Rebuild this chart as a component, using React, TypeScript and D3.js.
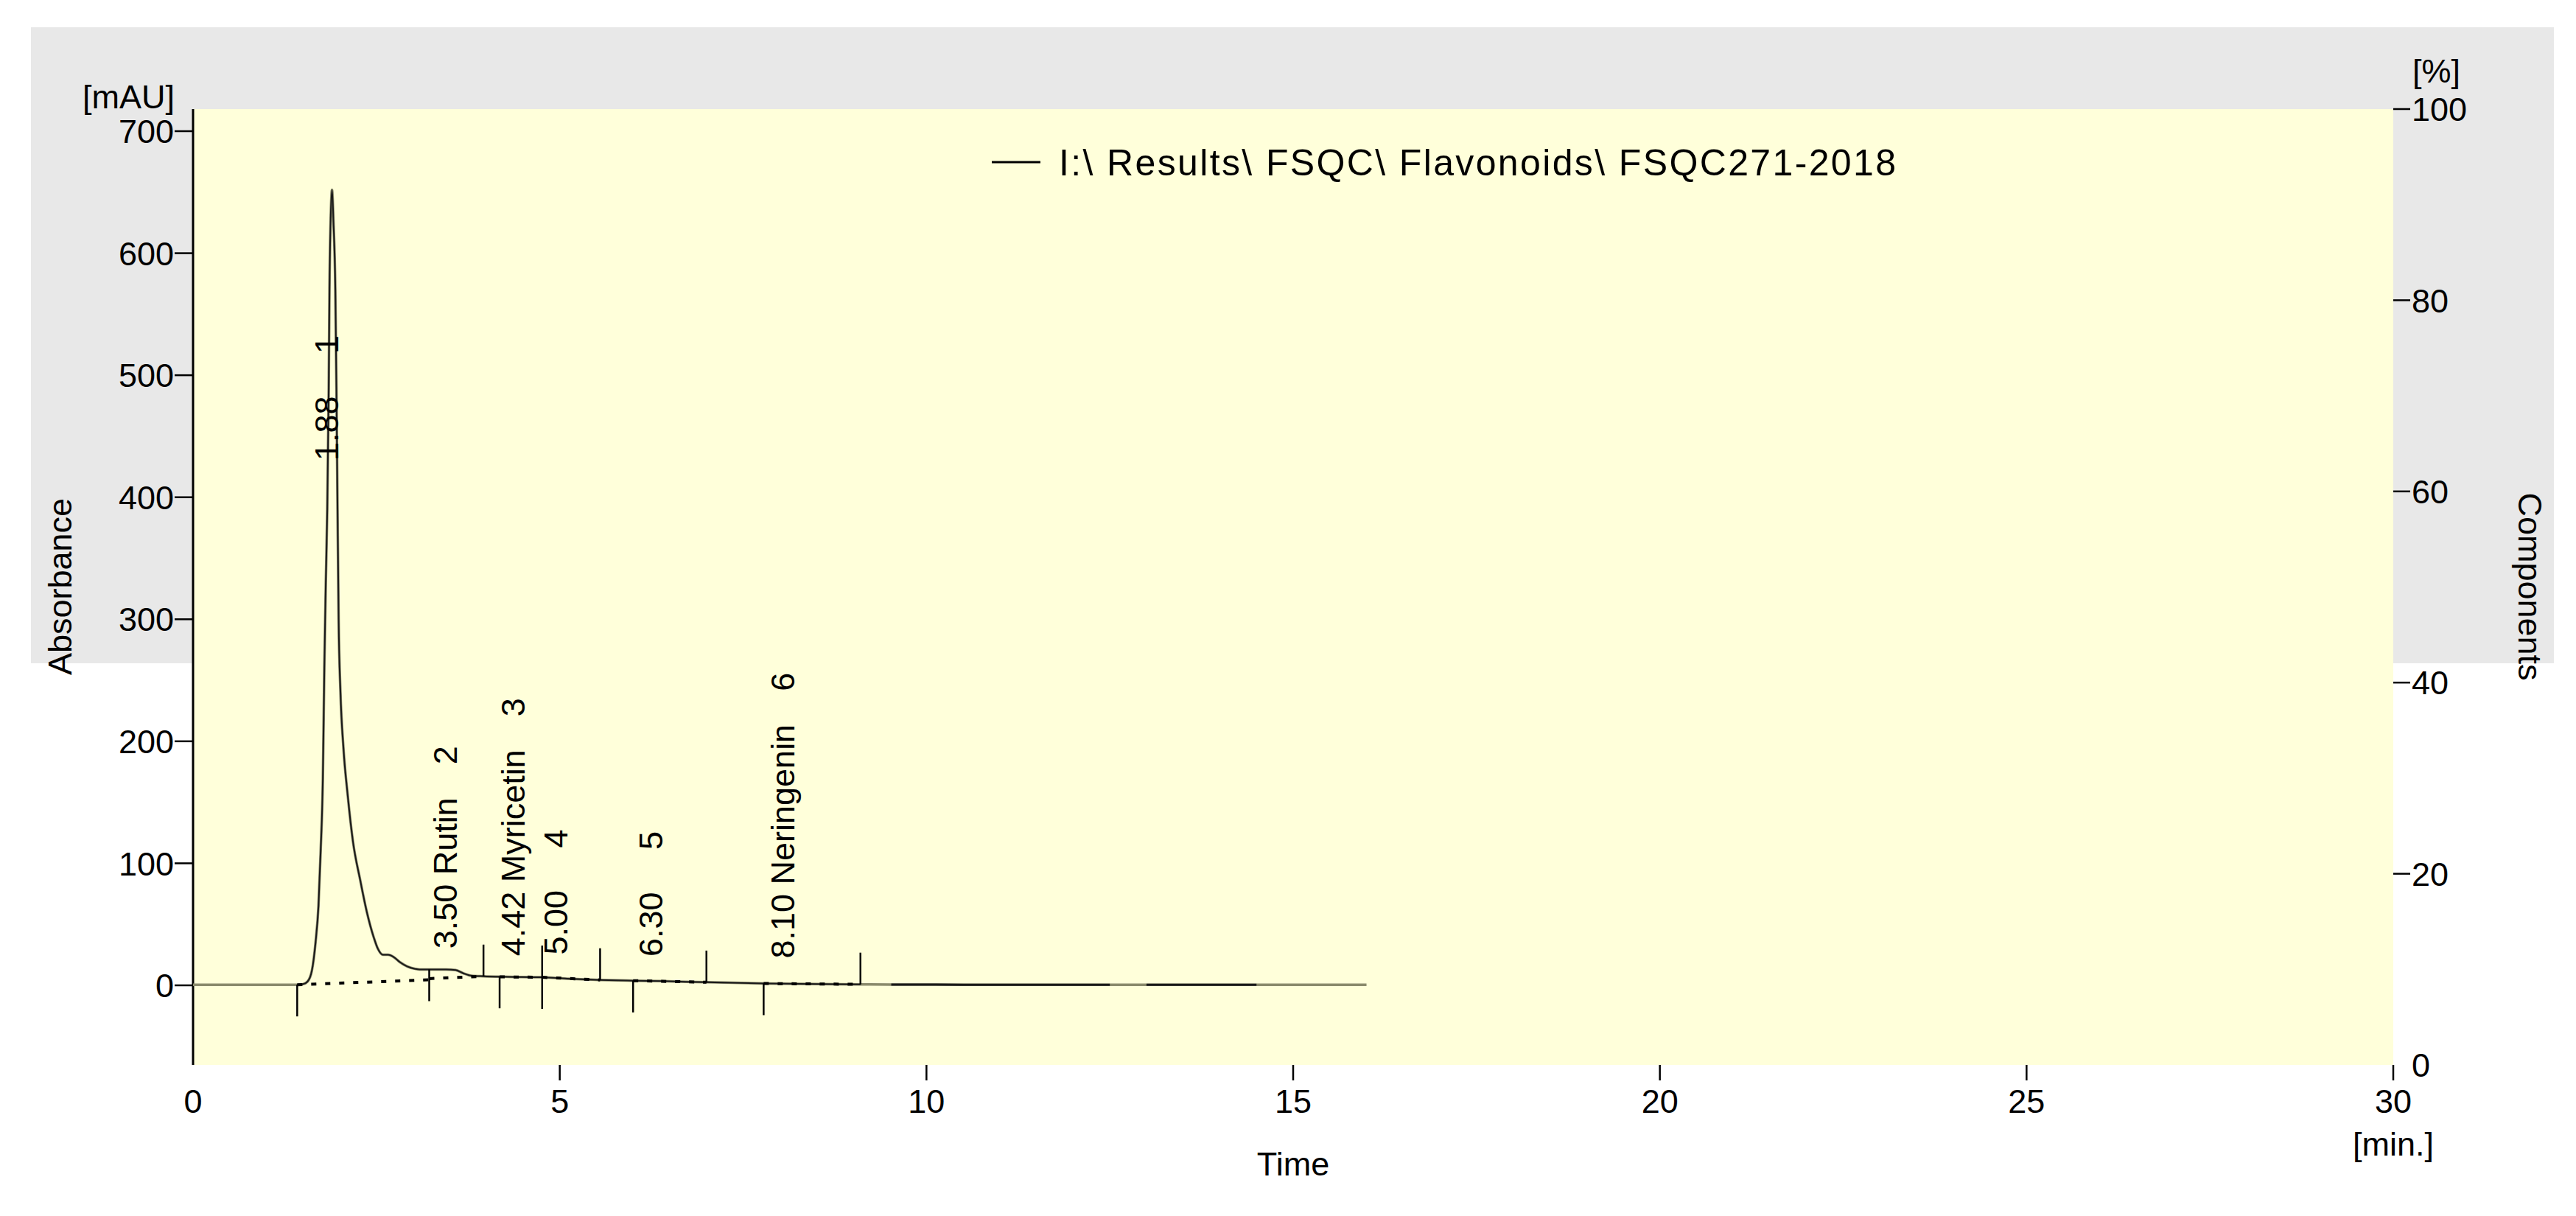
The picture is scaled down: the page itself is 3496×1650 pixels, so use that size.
import React from 'react';
import * as d3 from 'd3';

// ---- data ----
const traceTime = [0, 1.42, 1.5, 1.56, 1.62, 1.67, 1.71, 1.74, 1.77, 1.79, 1.81, 1.83, 1.85, 1.86, 1.875, 1.895, 1.915, 1.94, 1.955, 1.97, 1.985, 2.01, 2.05, 2.11, 2.18, 2.28, 2.37, 2.46, 2.52, 2.59, 2.66, 2.74, 2.82, 2.92, 3.03, 3.09, 3.22, 3.45, 3.58, 3.68, 3.8, 3.96, 4.3, 4.76, 5.1, 5.55, 6.0, 6.4, 7.0, 7.8, 8.5, 9.1, 9.52, 10.5, 12.5, 13.0, 14.5, 16.0];
const traceAbs = [0.5, 0.5, 1, 3, 12, 35, 65, 110, 170, 260, 330, 390, 490, 570, 625, 652, 625, 570, 490, 390, 300, 240, 195, 155, 118, 86, 60, 40, 30, 25, 25, 23, 19, 15.5, 13.5, 13, 13, 13, 12.5, 10, 7.8, 7.4, 7, 6.6, 5.5, 4.4, 3.8, 3.4, 2.5, 1.5, 1, 0.8, 0.6, 0.5, 0.5, 0.5, 0.4, 0.4];

const peakTimes = [1.88, 3.5, 4.42, 5.0, 6.3, 8.1];
const peakNames = ['', 'Rutin', 'Myricetin', '', '', 'Neringenin'];
const peakIndex = [1, 2, 3, 4, 5, 6];
const peakLabelAbs = [430, 30, 24, 25, 23.5, 22];

const baseStartTime = [1.42, 3.22, 4.18, 4.76, 6.0, 7.78];
const baseEndTime = [3.22, 3.96, 4.76, 5.55, 7.0, 9.1];
const baseStartAbs = [0.5, 5.5, 7.0, 6.6, 3.8, 1.5];
const baseEndAbs = [4.5, 7.4, 6.6, 4.4, 2.5, 0.8];

const downTickTimes = [1.42, 3.22, 4.18, 4.76, 6.0, 7.78];
const upTickTimes = [3.96, 4.76, 5.55, 7.0, 9.1];

const darkSegments = [[1.42, 9.1], [9.52, 12.5], [13.0, 14.5]];

const xTicks = [0, 5, 10, 15, 20, 25, 30];
const yTicks = [0, 100, 200, 300, 400, 500, 600, 700];
const rTicks = [0, 20, 40, 60, 80, 100];

const legendLabel = 'I:\\ Results\\ FSQC\\ Flavonoids\\ FSQC271-2018';

const W = 3496;
const H = 1650;
const FONT = '"Liberation Sans", Arial, sans-serif';

export default function App() {
  const plotL = 262, plotR = 3248, plotT = 148, plotB = 1445;
  const x = d3.scaleLinear().domain([0, 30]).range([plotL, plotR]);
  const y = d3.scaleLinear().domain([0, 700]).range([1337, 178]);
  const yR = d3.scaleLinear().domain([0, 100]).range([plotB, plotT]);

  const pts = traceTime.map((t, i) => [t, traceAbs[i]] as [number, number]);
  const line = d3.line<[number, number]>().x(d => x(d[0])).y(d => y(d[1])).curve(d3.curveMonotoneX);
  const interp = (t: number) => {
    const i = d3.bisector((d: number) => d).left(traceTime, t);
    if (i <= 0) return traceAbs[0];
    if (i >= traceTime.length) return traceAbs[traceAbs.length - 1];
    const t0 = traceTime[i - 1], t1 = traceTime[i];
    const f = (t - t0) / (t1 - t0);
    return traceAbs[i - 1] + f * (traceAbs[i] - traceAbs[i - 1]);
  };

  const tickLen = 43;
  const tickStroke = 2.5;

  return (
    <svg width={W} height={H} style={{ position: 'absolute', left: 0, top: 0, display: 'block' }} fontFamily={FONT}>
      <rect x={0} y={0} width={W} height={H} fill="#ffffff" />
      <rect x={42} y={37} width={3466 - 42} height={900 - 37} fill="#e8e8e8" />
      <rect x={plotL} y={plotT} width={plotR - plotL} height={plotB - plotT} fill="#ffffda" />

      {/* left axis */}
      <line x1={plotL} x2={plotL} y1={plotT} y2={plotB} stroke="#000" strokeWidth={3} />
      {yTicks.map(v => (
        <g key={'y' + v}>
          <line x1={plotL - 25} x2={plotL} y1={y(v)} y2={y(v)} stroke="#000" strokeWidth={tickStroke} />
          <text x={236} y={y(v)} dy="0.36em" textAnchor="end" fontSize={45}>{v}</text>
        </g>
      ))}
      <text x={237} y={147} textAnchor="end" fontSize={45}>[mAU]</text>
      <text transform={`translate(97,796) rotate(-90)`} textAnchor="middle" fontSize={45}>Absorbance</text>

      {/* right axis */}
      {rTicks.map(v => (
        <g key={'r' + v}>
          {v !== 0 && <line x1={plotR} x2={plotR + 23} y1={yR(v)} y2={yR(v)} stroke="#000" strokeWidth={tickStroke} />}
          <text x={plotR + 25} y={yR(v)} dy="0.36em" textAnchor="start" fontSize={45}>{v}</text>
        </g>
      ))}
      <text x={3274} y={112} textAnchor="start" fontSize={45}>[%]</text>
      <text transform={`translate(3418,796) rotate(90)`} textAnchor="middle" fontSize={45}>Components</text>

      {/* x axis */}
      {xTicks.map(v => (
        <g key={'x' + v}>
          {v !== 0 && <line x1={x(v)} x2={x(v)} y1={plotB} y2={plotB + 21} stroke="#000" strokeWidth={tickStroke} />}
          <text x={x(v)} y={1510} textAnchor="middle" fontSize={45}>{v}</text>
        </g>
      ))}
      <text x={x(15)} y={1595} textAnchor="middle" fontSize={45}>Time</text>
      <text x={x(30)} y={1568} textAnchor="middle" fontSize={45}>[min.]</text>

      {/* legend */}
      <line x1={1346} x2={1412} y1={220} y2={220} stroke="#000" strokeWidth={3} />
      <text x={1437} y={238} fontSize={50} textLength={1136} lengthAdjust="spacing">{legendLabel}</text>

      {/* trace */}
      <path d={line(pts) || ''} fill="none" stroke="#8a8a6c" strokeWidth={3.5} />
      {darkSegments.map((s, i) => (
        <path key={'ds' + i}
          d={d3.line<[number, number]>().x(d => x(d[0])).y(d => y(d[1])).curve(d3.curveMonotoneX)(
            [[s[0], interp(s[0])] as [number, number]]
              .concat(pts.filter(p => p[0] > s[0] && p[0] < s[1]))
              .concat([[s[1], interp(s[1])] as [number, number]])
          ) || ''}
          fill="none" stroke="#1a1a1a" strokeWidth={i === 0 ? 2 : 3} />
      ))}

      {/* integration baselines */}
      {baseStartTime.map((t, i) => (
        <line key={'b' + i} x1={x(t)} x2={x(baseEndTime[i])} y1={y(baseStartAbs[i])} y2={y(baseEndAbs[i])}
          stroke="#000" strokeWidth={4} strokeDasharray="7 12" />
      ))}

      {/* peak start / end marks */}
      {downTickTimes.map((t, i) => (
        <line key={'d' + i} x1={x(t)} x2={x(t)} y1={y(interp(t))} y2={y(interp(t)) + tickLen} stroke="#000" strokeWidth={tickStroke} />
      ))}
      {upTickTimes.map((t, i) => (
        <line key={'u' + i} x1={x(t)} x2={x(t)} y1={y(interp(t))} y2={y(interp(t)) - tickLen} stroke="#000" strokeWidth={tickStroke} />
      ))}

      {/* peak labels */}
      {peakTimes.map((t, i) => (
        <text key={'p' + i} transform={`translate(${x(t) + 10},${y(peakLabelAbs[i])}) rotate(-90)`}
          fontSize={45} style={{ whiteSpace: 'pre' }}>
          {`${t.toFixed(2)} ${peakNames[i]}`}
          <tspan dx={45}>{peakIndex[i]}</tspan>
        </text>
      ))}
    </svg>
  );
}
